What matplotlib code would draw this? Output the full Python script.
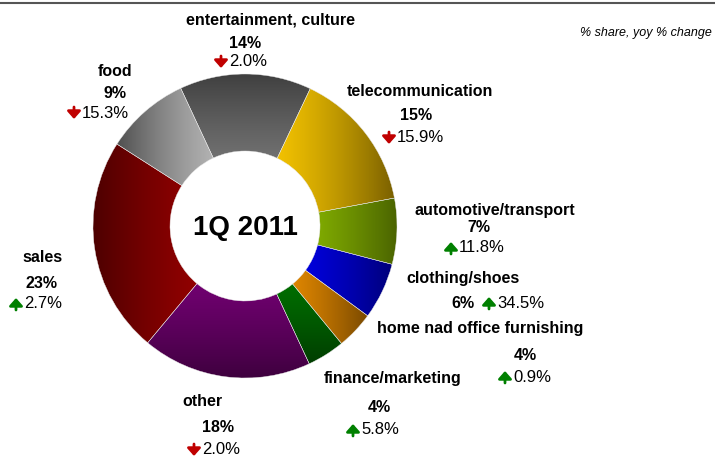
import numpy as np
import matplotlib.pyplot as plt
from matplotlib.colors import LinearSegmentedColormap

plt.rcParams['font.family'] = ['Liberation Sans', 'DejaVu Sans']

categories = ['entertainment, culture', 'telecommunication', 'automotive/transport',
              'clothing/shoes', 'home nad office furnishing', 'finance/marketing',
              'other', 'sales', 'food']
shares = [14, 15, 7, 6, 4, 4, 18, 23, 9]
changes = [-2.0, -15.9, 11.8, 34.5, 0.9, 5.8, -2.0, 2.7, -15.3]

# light / dark ends of each slice gradient and the side where it gets dark
light = ['#858585', '#ffcc00', '#99cc00', '#0000ff', '#ff9900', '#008000', '#800080', '#a00000', '#c0c0c0']
dark = ['#3f3f3f', '#7a6000', '#4a6300', '#00007a', '#7a4a00', '#003d00', '#3d003d', '#4a0000', '#505050']
dark_side = ['T', 'R', 'R', 'R', 'R', 'B', 'B', 'L', 'L']

W, H = 715, 459
fig = plt.figure(figsize=(W / 100, H / 100), dpi=100)
ax = fig.add_axes([0, 0, 1, 1])

cx, cy, r_out, r_in = 245, H - 226, 152, 75
wedges, _ = ax.pie(shares, startangle=115, counterclock=False, radius=r_out,
                   center=(cx, cy), frame=True,
                   wedgeprops=dict(width=r_out - r_in, edgecolor='#e8e8e8', linewidth=0.3))

for w, c0, c1, side in zip(wedges, light, dark, dark_side):
    v = w.get_path().vertices
    x0, y0 = v.min(axis=0)
    x1, y1 = v.max(axis=0)
    g = np.linspace(0, 1, 256) ** 1.5
    if side == 'T':
        img = g[:, None]
    elif side == 'B':
        img = g[::-1, None]
    elif side == 'R':
        img = g[None, :]
    else:
        img = g[None, ::-1]
    cmap = LinearSegmentedColormap.from_list('', [c0, c1])
    im = ax.imshow(img, cmap=cmap, extent=(x0, x1, y0, y1), origin='lower',
                   aspect='auto', interpolation='bilinear', zorder=1)
    im.set_clip_path(w)
    w.set_facecolor('none')
    w.set_zorder(2)

ax.set_xlim(0, W)
ax.set_ylim(0, H)
ax.set_aspect('auto')
ax.axis('off')

ax.text(cx, H - 228, '1Q 2011', fontsize=20, fontweight='bold', ha='center', va='center')
ax.plot([0, W], [H - 3, H - 3], color='#555555', lw=1.5)
ax.text(712, H - 33, '% share, yoy % change', fontsize=9, style='italic', ha='right', va='center')

# label layout: name (x, y), share (x, y), change (x, y)
name_pos = [(270, 20), (420, 92), (495, 210), (463, 278), (480, 328), (393, 379), (202, 402), (43, 258), (115, 71)]
share_pos = [(245, 43), (416, 116), (479, 228), (463, 303), (525, 356), (379, 408), (218, 428), (41, 283), (115, 94)]
chg_pos = [(229, 62), (397, 138), (459, 248), (497, 303), (513, 377), (361, 430), (202, 450), (24, 304), (82, 113)]

for name, s, c, (nx, ny), (sx, sy), (qx, qy) in zip(categories, shares, changes, name_pos, share_pos, chg_pos):
    ax.text(nx, H - ny, name, fontsize=11.5, fontweight='bold', ha='center', va='center')
    ax.text(sx, H - sy, f'{s}%', fontsize=11.5, fontweight='bold', ha='center', va='center')
    col = '#008000' if c > 0 else '#c00000'
    tail, head = (H - qy - 6, H - qy + 6) if c > 0 else (H - qy + 6, H - qy - 6)
    ax.annotate('', xy=(qx - 8, head), xytext=(qx - 8, tail),
                arrowprops=dict(arrowstyle='-|>,head_length=0.45,head_width=0.4',
                                lw=2, color=col, mutation_scale=10, shrinkA=0, shrinkB=0))
    ax.text(qx, H - qy, f'{abs(c):.1f}%', fontsize=12, ha='left', va='center')

fig.savefig('out.png', dpi=100)
